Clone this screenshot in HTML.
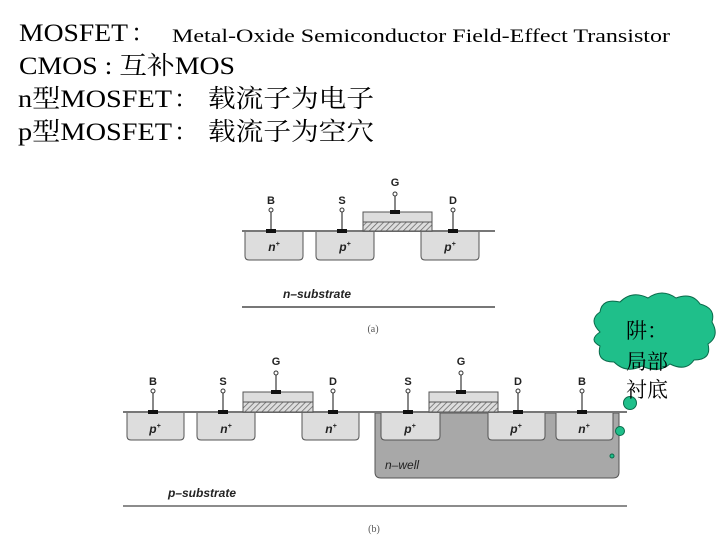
<!DOCTYPE html>
<html><head><meta charset="utf-8"><style>
html,body{margin:0;padding:0;background:#fff;}
svg{display:block;}
.t{font-family:"Liberation Serif","Noto Serif CJK SC","Noto Sans CJK SC",serif;fill:#000;}
.l{font-family:"Liberation Sans",sans-serif;font-weight:bold;font-size:11px;fill:#222;}
.w{font-family:"Liberation Sans",sans-serif;font-weight:bold;font-style:italic;font-size:12px;fill:#222;}
</style></head><body>
<svg width="720" height="540" viewBox="0 0 720 540" xmlns="http://www.w3.org/2000/svg">
<defs>
<pattern id="h" width="4" height="4" patternUnits="userSpaceOnUse" patternTransform="rotate(45)">
<rect width="4" height="4" fill="#ddd"/><line x1="0" y1="0" x2="0" y2="4" stroke="#666" stroke-width="1.5"/></pattern>
</defs>
<text class="t" x="19" y="41" font-size="25" textLength="109" lengthAdjust="spacingAndGlyphs">MOSFET</text>
<text class="t" x="131" y="41" font-size="24">：</text>
<text class="t" x="172" y="42" font-size="19" textLength="498" lengthAdjust="spacingAndGlyphs">Metal-Oxide Semiconductor Field-Effect Transistor</text>
<text class="t" x="19" y="74" font-size="25" textLength="216" lengthAdjust="spacingAndGlyphs">CMOS : 互补MOS</text>
<text class="t" x="18" y="107" font-size="25" textLength="154" lengthAdjust="spacingAndGlyphs">n型MOSFET</text>
<text class="t" x="174" y="107" font-size="24">：</text>
<text class="t" x="208" y="107" font-size="25" textLength="166" lengthAdjust="spacingAndGlyphs">载流子为电子</text>
<text class="t" x="18" y="140" font-size="25" textLength="154" lengthAdjust="spacingAndGlyphs">p型MOSFET</text>
<text class="t" x="174" y="140" font-size="24">：</text>
<text class="t" x="208" y="140" font-size="25" textLength="166" lengthAdjust="spacingAndGlyphs">载流子为空穴</text>

<!-- (a) -->
<g>
<line x1="242" y1="231" x2="495" y2="231" stroke="#777" stroke-width="2"/>
<path d="M245 232 V256 Q245 260 249 260 H299 Q303 260 303 256 V232" fill="#ddd" stroke="#555"/>
<path d="M316 232 V256 Q316 260 320 260 H370 Q374 260 374 256 V232" fill="#ddd" stroke="#555"/>
<path d="M421 232 V256 Q421 260 425 260 H475 Q479 260 479 256 V232" fill="#ddd" stroke="#555"/>
<rect x="363" y="212" width="69" height="10" fill="#ddd" stroke="#555"/>
<rect x="363" y="222" width="69" height="9" fill="url(#h)" stroke="#555"/>
<rect x="390" y="210" width="10" height="4" fill="#111"/>
<line x1="395" y1="196" x2="395" y2="210" stroke="#111"/><circle cx="395" cy="194" r="2" fill="#fff" stroke="#333"/>
<text class="l" x="395" y="186" text-anchor="middle">G</text>
<g stroke="#111">
<line x1="271" y1="212" x2="271" y2="229"/><line x1="342" y1="212" x2="342" y2="229"/><line x1="453" y1="212" x2="453" y2="229"/></g>
<rect x="266" y="229" width="10" height="4" fill="#111"/><rect x="337" y="229" width="10" height="4" fill="#111"/><rect x="448" y="229" width="10" height="4" fill="#111"/>
<circle cx="271" cy="210" r="2" fill="#fff" stroke="#333"/><circle cx="342" cy="210" r="2" fill="#fff" stroke="#333"/><circle cx="453" cy="210" r="2" fill="#fff" stroke="#333"/>
<text class="l" x="271" y="204" text-anchor="middle">B</text><text class="l" x="342" y="204" text-anchor="middle">S</text><text class="l" x="453" y="204" text-anchor="middle">D</text>
<text class="w" x="274" y="251" text-anchor="middle">n<tspan font-size="7" dy="-5">+</tspan></text>
<text class="w" x="345" y="251" text-anchor="middle">p<tspan font-size="7" dy="-5">+</tspan></text>
<text class="w" x="450" y="251" text-anchor="middle">p<tspan font-size="7" dy="-5">+</tspan></text>
<text class="w" x="283" y="298" font-size="10" font-weight="normal">n–substrate</text>
<line x1="242" y1="307" x2="495" y2="307" stroke="#777" stroke-width="2"/>
<text x="373" y="332" font-family="Liberation Serif,serif" font-size="10" fill="#555" text-anchor="middle">(a)</text>
</g>

<!-- (b) -->
<g>
<path d="M375 413 V472 Q375 478 381 478 H613 Q619 478 619 472 V413 Z" fill="#a8a8a8" stroke="#555"/>
<line x1="123" y1="412" x2="627" y2="412" stroke="#777" stroke-width="2"/>
<g fill="#ddd" stroke="#555">
<path d="M127 413 V436 Q127 440 131 440 H180 Q184 440 184 436 V413"/>
<path d="M197 413 V436 Q197 440 201 440 H251 Q255 440 255 436 V413"/>
<path d="M302 413 V436 Q302 440 306 440 H355 Q359 440 359 436 V413"/>
<path d="M381 413 V436 Q381 440 385 440 H436 Q440 440 440 436 V413"/>
<path d="M488 413 V436 Q488 440 492 440 H541 Q545 440 545 436 V413"/>
<path d="M556 413 V436 Q556 440 560 440 H609 Q613 440 613 436 V413"/>
</g>
<rect x="243" y="392" width="70" height="10" fill="#ddd" stroke="#555"/>
<rect x="243" y="402" width="70" height="10" fill="url(#h)" stroke="#555"/>
<rect x="429" y="392" width="69" height="10" fill="#ddd" stroke="#555"/>
<rect x="429" y="402" width="69" height="10" fill="url(#h)" stroke="#555"/>
<rect x="271" y="390" width="10" height="4" fill="#111"/><rect x="456" y="390" width="10" height="4" fill="#111"/>
<line x1="276" y1="375" x2="276" y2="390" stroke="#111"/><line x1="461" y1="375" x2="461" y2="390" stroke="#111"/>
<circle cx="276" cy="373" r="2" fill="#fff" stroke="#333"/><circle cx="461" cy="373" r="2" fill="#fff" stroke="#333"/>
<text class="l" x="276" y="365" text-anchor="middle">G</text><text class="l" x="461" y="365" text-anchor="middle">G</text>
<g stroke="#111">
<line x1="153" y1="393" x2="153" y2="410"/><line x1="223" y1="393" x2="223" y2="410"/><line x1="333" y1="393" x2="333" y2="410"/>
<line x1="408" y1="393" x2="408" y2="410"/><line x1="518" y1="393" x2="518" y2="410"/><line x1="582" y1="393" x2="582" y2="410"/></g>
<g fill="#111">
<rect x="148" y="410" width="10" height="4"/><rect x="218" y="410" width="10" height="4"/><rect x="328" y="410" width="10" height="4"/>
<rect x="403" y="410" width="10" height="4"/><rect x="513" y="410" width="10" height="4"/><rect x="577" y="410" width="10" height="4"/></g>
<g fill="#fff" stroke="#333">
<circle cx="153" cy="391" r="2"/><circle cx="223" cy="391" r="2"/><circle cx="333" cy="391" r="2"/>
<circle cx="408" cy="391" r="2"/><circle cx="518" cy="391" r="2"/><circle cx="582" cy="391" r="2"/></g>
<text class="l" x="153" y="385" text-anchor="middle">B</text><text class="l" x="223" y="385" text-anchor="middle">S</text><text class="l" x="333" y="385" text-anchor="middle">D</text>
<text class="l" x="408" y="385" text-anchor="middle">S</text><text class="l" x="518" y="385" text-anchor="middle">D</text><text class="l" x="582" y="385" text-anchor="middle">B</text>
<text class="w" x="155" y="433" text-anchor="middle">p<tspan font-size="7" dy="-5">+</tspan></text>
<text class="w" x="226" y="433" text-anchor="middle">n<tspan font-size="7" dy="-5">+</tspan></text>
<text class="w" x="331" y="433" text-anchor="middle">n<tspan font-size="7" dy="-5">+</tspan></text>
<text class="w" x="410" y="433" text-anchor="middle">p<tspan font-size="7" dy="-5">+</tspan></text>
<text class="w" x="516" y="433" text-anchor="middle">p<tspan font-size="7" dy="-5">+</tspan></text>
<text class="w" x="584" y="433" text-anchor="middle">n<tspan font-size="7" dy="-5">+</tspan></text>
<text x="385" y="469" font-family="Liberation Sans,sans-serif" font-style="italic" font-size="12" fill="#222">n–well</text>
<text class="w" x="168" y="497" font-size="10">p–substrate</text>
<line x1="123" y1="506" x2="627" y2="506" stroke="#666" stroke-width="1.5"/>
<text x="374" y="532" font-family="Liberation Serif,serif" font-size="10" fill="#555" text-anchor="middle">(b)</text>
</g>

<!-- cloud -->
<g fill="#1fbf8a" stroke="#0a6a4a" stroke-width="1">
<path d="M600 332 Q588 320 600 312 Q602 298 620 302 Q632 290 648 298 Q662 288 676 298 Q692 292 700 304 Q716 308 712 322 Q720 336 708 344 Q712 360 694 360 Q686 372 670 364 Q658 374 642 366 Q626 374 614 362 Q596 362 600 346 Q588 340 600 332 Z"/>
<circle cx="630" cy="403" r="6.5"/>
<circle cx="620" cy="431" r="4.5"/>
<circle cx="612" cy="456" r="2"/>
</g>
<text class="t" x="626" y="338" font-size="21" fill="#222">阱：</text>
<text class="t" x="626" y="369" font-size="21" fill="#222">局部</text>
<text class="t" x="626" y="397" font-size="21">衬底</text>
</svg>
</body></html>
